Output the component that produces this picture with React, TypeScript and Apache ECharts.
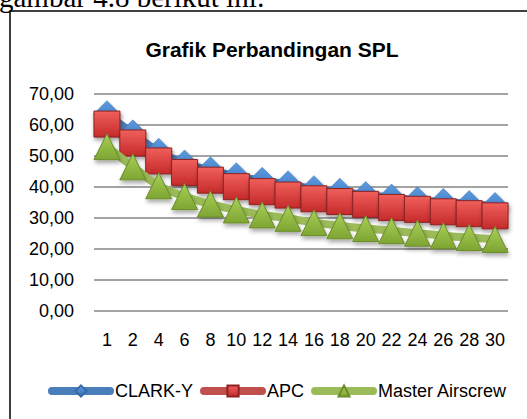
import React, { useEffect, useRef } from "react";
import * as echarts from "echarts";

const categories = ["1", "2", "4", "6", "8", "10", "12", "14", "16", "18", "20", "22", "24", "26", "28", "30"];
const clarkY = [63.5, 57.3, 51.4, 47.6, 45.4, 43.5, 42.0, 40.9, 39.3, 38.5, 37.4, 36.6, 35.7, 35.2, 34.5, 33.9];
const apc = [60.3, 54.2, 48.4, 44.7, 42.2, 40.1, 38.5, 37.4, 36.2, 35.3, 34.4, 33.4, 32.8, 32.0, 31.4, 30.7];
const masterAirscrew = [53.0, 46.5, 40.4, 36.9, 34.5, 32.6, 31.0, 29.9, 28.5, 27.5, 26.6, 25.9, 25.1, 24.3, 23.7, 23.1];
const seriesNames = ["CLARK-Y", "APC", "Master Airscrew"];
const titleText = "Grafik Perbandingan SPL";
const captionText = "gambar 4.8 berikut ini:";

const FONT = "'Liberation Sans', Arial, sans-serif";

function grad(top: string, bottom: string) {
  return {
    type: "linear",
    x: 0,
    y: 0,
    x2: 0,
    y2: 1,
    colorStops: [
      { offset: 0, color: top },
      { offset: 1, color: bottom },
    ],
  };
}

export default function App() {
  const ref = useRef<HTMLDivElement>(null);
  useEffect(() => {
    if (!ref.current) return;
    const chart = echarts.init(ref.current, undefined, { renderer: "svg" });
    const shadow = {
      shadowBlur: 4,
      shadowColor: "rgba(0,0,0,0.35)",
      shadowOffsetX: 1,
      shadowOffsetY: 3,
    };
    chart.setOption({
      animation: false,
      backgroundColor: "#ffffff",
      graphic: [
        {
          type: "text",
          x: -1,
          y: -3,
          z: 10,
          style: {
            text: captionText,
            font: "29px 'Liberation Serif', 'Times New Roman', serif",
            fill: "#000",
            textVerticalAlign: "middle",
            verticalAlign: "middle",
          },
        },
        {
          type: "rect",
          shape: { x: 10, y: 11, width: 530, height: 430 },
          z: -1,
          style: { fill: "none", stroke: "#000", lineWidth: 1.5 },
        },
        {
          type: "text",
          x: 272,
          y: 49,
          style: {
            text: titleText,
            font: "bold 21px " + FONT,
            fill: "#000",
            align: "center",
            textAlign: "center",
            verticalAlign: "middle",
            textVerticalAlign: "middle",
          },
        },
      ],
      grid: { left: 94, right: 19, top: 94, bottom: 108 },
      legend: {
        left: 48,
        top: 382,
        padding: 0,
        itemWidth: 58,
        itemHeight: 14,
        itemGap: 7,
        lineStyle: { width: 8, cap: "round" },
        itemStyle: { shadowBlur: 0, shadowOffsetX: 0, shadowOffsetY: 0 },
        textStyle: { fontFamily: FONT, fontSize: 18, color: "#000" },
        data: seriesNames,
      },
      xAxis: {
        type: "category",
        data: categories,
        boundaryGap: true,
        axisLine: { show: false },
        axisTick: { show: false },
        axisLabel: { fontFamily: FONT, fontSize: 18, color: "#000", margin: 20, interval: 0 },
      },
      yAxis: {
        type: "value",
        min: 0,
        max: 70,
        interval: 10,
        axisLine: { show: false },
        axisTick: { show: false },
        splitLine: { lineStyle: { color: "#a3a3a3", width: 2 } },
        axisLabel: {
          fontFamily: FONT,
          fontSize: 18,
          color: "#000",
          margin: 20,
          formatter: (v: number) => v.toFixed(2).replace(".", ","),
        },
      },
      series: [
        {
          name: seriesNames[0],
          type: "line",
          data: clarkY,
          smooth: 0.3,
          symbol: "diamond",
          symbolSize: 27,
          lineStyle: { color: "#4a7ebb", width: 8, cap: "round" },
          itemStyle: { color: grad("#5b9be0", "#3a6fb5"), borderColor: "#3a6aa8", borderWidth: 0.5, ...shadow },
          z: 2,
        },
        {
          name: seriesNames[1],
          type: "line",
          data: apc,
          smooth: 0.3,
          symbol: "rect",
          symbolSize: 26,
          lineStyle: { color: "#c0504d", width: 8, cap: "round" },
          itemStyle: { color: grad("#f0605c", "#c52a2a"), borderColor: "#8e2222", borderWidth: 1, ...shadow },
          z: 3,
        },
        {
          name: seriesNames[2],
          type: "line",
          data: masterAirscrew,
          smooth: 0.3,
          symbol: "triangle",
          symbolSize: 26,
          lineStyle: { color: "#9bbb59", width: 8, cap: "round" },
          itemStyle: { color: grad("#a8cf55", "#7ea533"), borderColor: "#6b8c2a", borderWidth: 1, ...shadow },
          z: 4,
        },
      ],
    });
    return () => chart.dispose();
  }, []);
  return (
    <div
      ref={ref}
      style={{ position: "fixed", left: 0, top: 0, width: 527, height: 419, background: "#fff" }}
    />
  );
}
